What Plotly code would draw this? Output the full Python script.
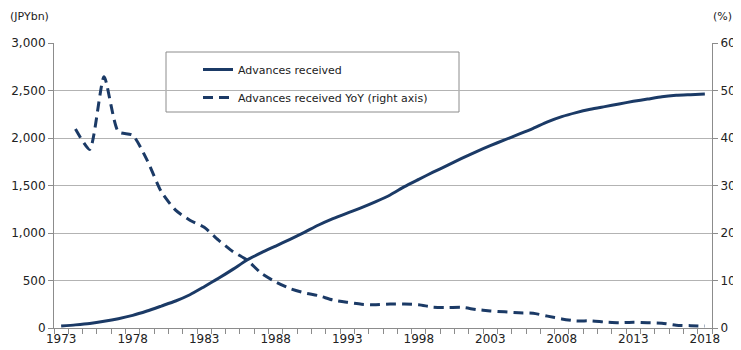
import plotly.graph_objects as go

years = list(range(1973, 2019))
advances = [21, 33, 48, 70, 98, 133, 179, 231, 284, 350,
            435, 523, 617, 716, 793, 863, 933, 1007, 1084, 1151,
            1210, 1267, 1330, 1400, 1488, 1565, 1640, 1712, 1785, 1855,
            1920, 1980, 2040, 2102, 2170, 2225, 2267, 2302, 2330, 2358,
            2386, 2410, 2435, 2449, 2456, 2463]
yoy = [None, 41.9, 37.6, 52.9, 41.3, 40.6, 35.4, 28.7, 24.8, 22.7,
       21.2, 18.5, 16.1, 14.3, 11.5, 9.7, 8.3, 7.4, 6.8, 5.9,
       5.4, 5.0, 4.9, 5.05, 5.05, 4.9, 4.4, 4.3, 4.35, 3.9,
       3.6, 3.4, 3.2, 3.1, 2.5, 1.9, 1.5, 1.5, 1.26, 1.1,
       1.2, 1.1, 1.0, 0.6, 0.5, 0.4]
left_ticks = [0, 500, 1000, 1500, 2000, 2500, 3000]
right_ticks = [0, 10, 20, 30, 40, 50, 60]
x_labels = list(range(1973, 2019, 5))

navy = "#1b3a66"
font_family = "Verdana, DejaVu Sans, sans-serif"
grid = "#b3b3b3"
axis_col = "#8c8c8c"

# page body has an 8px offset; figure is sized so the plot area lands where the reference has it
W, H = 733, 342
L, T, R, B = 46, 35, 29, 22
PW, PH = W - L - R, H - T - B  # 658 x 285


def px(xp):  # reference page x -> paper
    return (xp - 8 - L) / PW


def py(yp):  # reference page y -> paper
    return (H - B - (yp - 8)) / PH


fig = go.Figure()
fig.add_trace(go.Scatter(
    x=years, y=advances, name="Advances received", mode="lines",
    line=dict(color=navy, width=3, shape="spline", smoothing=0.6),
    legendgroup="a"))
fig.add_trace(go.Scatter(
    x=years, y=yoy, name="Advances received YoY (right axis)", mode="lines",
    yaxis="y2", connectgaps=False,
    line=dict(color=navy, width=3, dash="10px,6px", shape="spline", smoothing=0.6),
    legendgroup="b"))

fig.update_layout(
    width=W, height=H,
    margin=dict(l=L, r=R, t=T, b=B, autoexpand=False),
    paper_bgcolor="white", plot_bgcolor="white",
    font=dict(family=font_family, size=12, color="#222"),
    showlegend=True,
    legend=dict(x=px(198), y=py(55), xanchor="left", yanchor="top",
                bgcolor="rgba(0,0,0,0)", borderwidth=0,
                font=dict(size=11, color="#222"),
                tracegroupgap=9, itemwidth=30),
    xaxis=dict(range=[1972.5, 2018.5], tickmode="array", tickvals=x_labels,
               ticktext=[str(v) for v in x_labels], ticks="",
               showgrid=False, showline=True, linecolor=axis_col, linewidth=1,
               zeroline=False, automargin=False,
               minor=dict(ticks="outside", tick0=1972.5, dtick=1, ticklen=5,
                          tickcolor=axis_col, showgrid=False),
               tickfont=dict(size=12)),
    yaxis=dict(range=[0, 3000], tickvals=left_ticks, tickformat=",d",
               showgrid=True, gridcolor=grid, gridwidth=1, automargin=False,
               showline=True, linecolor=axis_col, ticks="outside",
               ticklen=5, tickcolor=axis_col, zeroline=False,
               tickfont=dict(size=12)),
    yaxis2=dict(range=[0, 60], tickvals=right_ticks, overlaying="y",
                side="right", showgrid=False, showline=True, automargin=False,
                linecolor=axis_col, ticks="outside", ticklen=5,
                tickcolor=axis_col, zeroline=False, tickfont=dict(size=12)),
)

fig.add_shape(type="rect", xref="paper", yref="paper",
              x0=px(166), x1=px(459), y0=py(112), y1=py(52),
              line=dict(color="#8c8c8c", width=1), fillcolor="white",
              layer="below")

fig.add_annotation(text="(JPYbn)", xref="paper", yref="paper",
                   x=px(8), y=py(17),
                   xanchor="left", yanchor="middle", showarrow=False,
                   font=dict(size=11, color="#222"))
fig.add_annotation(text="(%)", xref="paper", yref="paper",
                   x=px(711), y=py(17),
                   xanchor="left", yanchor="middle", showarrow=False,
                   font=dict(size=11, color="#222"))

fig.write_html("out.html")
